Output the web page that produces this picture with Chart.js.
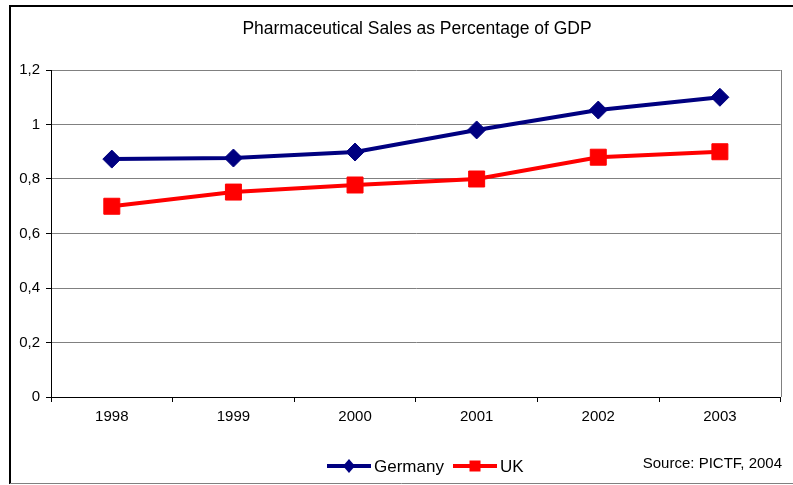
<!DOCTYPE html>
<html>
<head>
<meta charset="utf-8">
<script src="https://cdn.jsdelivr.net/npm/chart.js@4.4.1/dist/chart.umd.min.js"></script>
<style>
  html, body { margin: 0; padding: 0; background: #fff; }
  #wrap { width: 793px; height: 485px; position: relative; }
</style>
</head>
<body>
<div id="wrap"><canvas id="sales_Chart"></canvas></div>
<script>
const years = ['1998', '1999', '2000', '2001', '2002', '2003'];
const germany = [0.873, 0.877, 0.899, 0.98, 1.053, 1.10];
const uk = [0.70, 0.752, 0.778, 0.80, 0.88, 0.90];
const yTicks = [0, 0.2, 0.4, 0.6, 0.8, 1, 1.2];

const chartTitle = 'Pharmaceutical Sales as Percentage of GDP';
const sourceNote = 'Source: PICTF, 2004';

const FONT = 'Arial, "Liberation Sans", sans-serif';

// frame, title, right border, legend and source note
const extras = {
    id: 'extras',
    afterDraw(chart) {
        const c = chart.ctx;
        const a = chart.chartArea;
        c.save();
        // outer frame
        c.strokeStyle = '#000';
        c.lineWidth = 2;
        c.beginPath();
        c.moveTo(793, 6);
        c.lineTo(10, 6);
        c.lineTo(10, 484);
        c.stroke();
        c.strokeStyle = '#808080';
        c.lineWidth = 1;
        c.beginPath();
        c.moveTo(10, 483.5);
        c.lineTo(793, 483.5);
        c.stroke();

        // right border of plot
        c.strokeStyle = '#808080';
        c.beginPath();
        c.moveTo(Math.round(a.right) + 0.5, a.top);
        c.lineTo(Math.round(a.right) + 0.5, a.bottom);
        c.stroke();

        // title
        c.fillStyle = '#000';
        c.font = '17.5px ' + FONT;
        c.textAlign = 'center';
        c.textBaseline = 'middle';
        c.fillText(chartTitle, 417, 29);

        // legend
        const items = [
            { label: 'Germany', color: '#000080', style: 'diamond', x: 327 },
            { label: 'UK', color: '#FF0000', style: 'square', x: 453 }
        ];
        const ly = 466;
        c.font = '17px ' + FONT;
        c.textAlign = 'left';
        items.forEach(it => {
            c.strokeStyle = it.color;
            c.fillStyle = it.color;
            c.lineWidth = 4;
            c.beginPath();
            c.moveTo(it.x, ly);
            c.lineTo(it.x + 44, ly);
            c.stroke();
            const mx = it.x + 22;
            c.beginPath();
            if (it.style === 'diamond') {
                c.moveTo(mx - 6, ly);
                c.lineTo(mx, ly - 7);
                c.lineTo(mx + 6, ly);
                c.lineTo(mx, ly + 7);
                c.closePath();
            } else {
                c.rect(mx - 5.5, ly - 5.5, 11, 11);
            }
            c.fill();
            c.fillStyle = '#000';
            c.fillText(it.label, it.x + 47, ly + 1);
        });

        // source
        c.font = '15px ' + FONT;
        c.textAlign = 'right';
        c.fillText(sourceNote, 782, 464);
        c.restore();
    }
};

new Chart(document.getElementById('sales_Chart'), {
    type: 'line',
    data: {
        labels: years,
        datasets: [
            {
                label: 'Germany',
                data: germany,
                borderColor: '#000080',
                backgroundColor: '#000080',
                borderWidth: 4,
                pointStyle: 'rectRot',
                pointRadius: 9,
                pointBorderWidth: 1,
                tension: 0
            },
            {
                label: 'UK',
                data: uk,
                borderColor: '#FF0000',
                backgroundColor: '#FF0000',
                borderWidth: 4,
                pointStyle: 'rect',
                pointRadius: 11.3,
                pointBorderWidth: 1,
                tension: 0
            }
        ]
    },
    options: {
        responsive: true,
        maintainAspectRatio: false,
        animation: false,
        layout: { padding: { top: 70, right: 11, left: 0, bottom: 0 } },
        plugins: {
            legend: { display: false },
            tooltip: { enabled: false }
        },
        scales: {
            x: {
                offset: true,
                afterFit: s => { s.height = 88; },
                grid: {
                    offset: true,
                    drawOnChartArea: false,
                    color: '#000',
                    tickLength: 5
                },
                border: { color: '#000', width: 1 },
                ticks: {
                    color: '#000',
                    font: { family: FONT, size: 15 },
                    padding: 6,
                    maxRotation: 0
                }
            },
            y: {
                min: 0,
                max: 1.2,
                afterFit: s => { s.width = 51; },
                afterBuildTicks: s => { s.ticks = yTicks.map(v => ({ value: v })); },
                grid: {
                    color: '#808080',
                    tickColor: '#000',
                    tickLength: 5
                },
                border: { color: '#000', width: 1 },
                ticks: {
                    color: '#000',
                    font: { family: FONT, size: 15 },
                    padding: 6,
                    callback: v => String(Math.round(v * 10) / 10).replace('.', ',')
                }
            }
        }
    },
    plugins: [extras]
});
</script>
</body>
</html>
